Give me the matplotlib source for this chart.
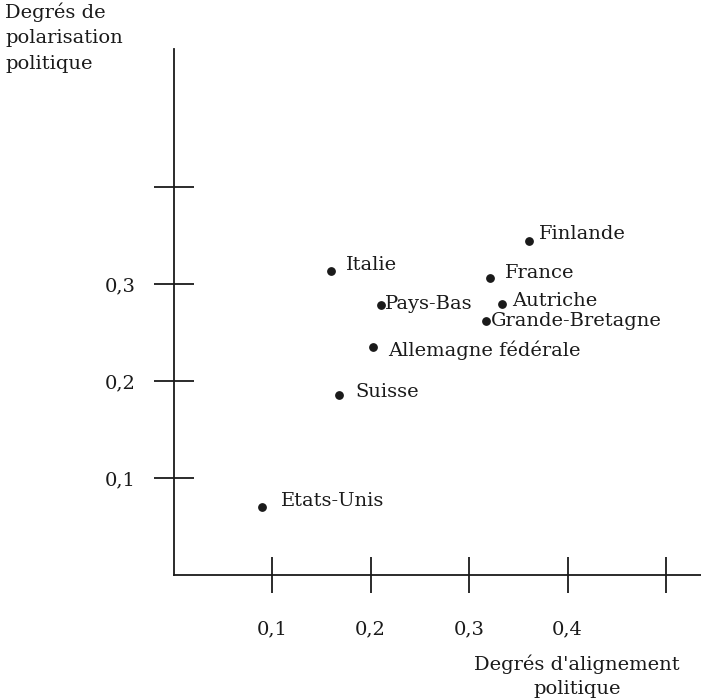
import numpy as np
import matplotlib.pyplot as plt

# values
countries = ["Etats-Unis", "Suisse", "Italie", "Pays-Bas", "Allemagne fédérale",
             "France", "Autriche", "Grande-Bretagne", "Finlande"]
alignement = [0.090, 0.168, 0.160, 0.211, 0.203, 0.321, 0.333, 0.317, 0.361]
polarisation = [0.070, 0.186, 0.313, 0.278, 0.235, 0.306, 0.279, 0.262, 0.344]

x_ticks = [0.1, 0.2, 0.3, 0.4, 0.5]
x_tick_labels = ["0,1", "0,2", "0,3", "0,4", ""]
y_ticks = [0.1, 0.2, 0.3, 0.4]
y_tick_labels = ["0,1", "0,2", "0,3", ""]

# label offsets in pixels (dx, dy), tuned to the scan
label_offsets = [(19, 6), (16, 3), (15, 6), (4, 1), (15, -3),
                 (15, 5), (11, 3), (5, 0), (10, 7)]

plt.rcParams['font.family'] = ['DejaVu Serif']
FS = 14

fig = plt.figure(figsize=(7.01, 7.00), dpi=100)
ax = fig.add_axes([173.5 / 701, 125 / 700, 527.5 / 701, 526 / 700])
ax.set_xlim(0, 0.5355)
ax.set_ylim(0, 0.5423)

for side in ("top", "right"):
    ax.spines[side].set_visible(False)
for side in ("left", "bottom"):
    ax.spines[side].set_linewidth(1.3)
    ax.spines[side].set_color("#1a1a1a")

ax.set_xticks(x_ticks)
ax.set_xticklabels(x_tick_labels)
ax.set_yticks(y_ticks)
ax.set_yticklabels(y_tick_labels)
ax.tick_params(axis="x", direction="inout", length=26, width=1.3, pad=20,
               labelsize=FS, color="#1a1a1a", labelcolor="#1a1a1a")
ax.tick_params(axis="y", direction="inout", length=29, width=1.3, pad=13,
               labelsize=FS, color="#1a1a1a", labelcolor="#1a1a1a")

ax.scatter(alignement, polarisation, s=28, color="#1a1a1a", zorder=3)
for name, xv, yv, off in zip(countries, alignement, polarisation, label_offsets):
    ax.annotate(name, (xv, yv), xytext=off, textcoords="offset pixels",
                ha="left", va="center", fontsize=FS, color="#1a1a1a")

fig.text(5 / 701, 1 - 2 / 700, "Degrés de\npolarisation\npolitique",
         ha="left", va="top", fontsize=FS, linespacing=1.55, color="#1a1a1a")
fig.text(577 / 701, 1 - 676 / 700, "Degrés d'alignement\npolitique",
         ha="center", va="center", fontsize=FS, linespacing=1.4, color="#1a1a1a")

fig.savefig("out.png", dpi=100)
